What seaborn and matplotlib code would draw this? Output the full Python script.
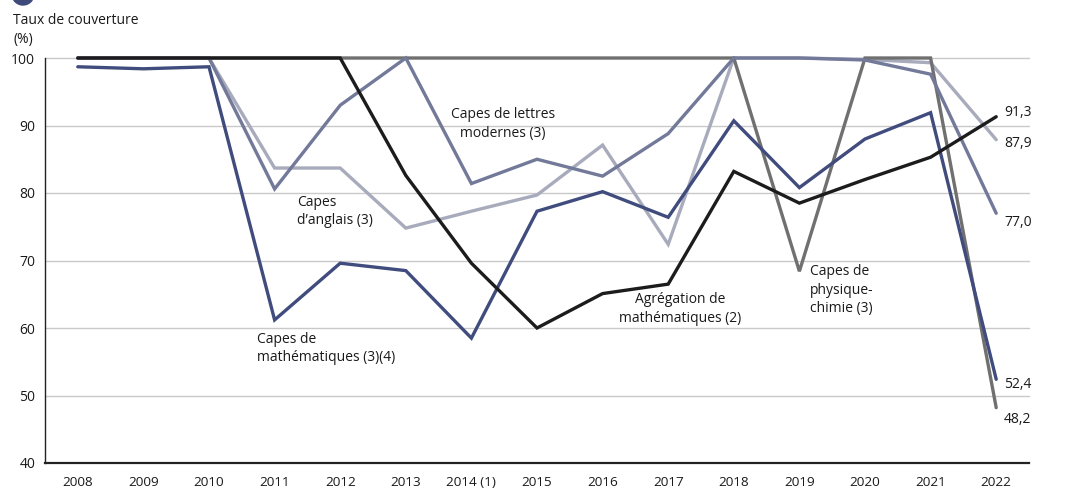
import matplotlib
matplotlib.use("Agg")
import matplotlib.pyplot as plt
import matplotlib.patches as mpatches
import numpy as np
import pandas as pd
import seaborn as sns

# Years of the competitive exams (2014 carries a footnote)
years = ["2008", "2009", "2010", "2011", "2012", "2013", "2014 (1)", "2015",
         "2016", "2017", "2018", "2019", "2020", "2021", "2022"]

# Coverage rate (%) for each exam
agreg_maths = [100, 100, 100, 100, 100, 82.6, 69.6, 60.0, 65.1, 66.5, 83.2, 78.5, 82.0, 85.3, 91.3]
capes_maths = [98.7, 98.4, 98.7, 61.2, 69.6, 68.5, 58.5, 77.3, 80.2, 76.4, 90.7, 80.8, 88.0, 91.9, 52.4]
capes_physique = [100, 100, 100, 100, 100, 100, 100, 100, 100, 100, 100, 68.4, 100, 100, 48.2]
capes_lettres = [100, 100, 100, 80.6, 93.0, 100, 81.4, 85.0, 82.5, 88.8, 100, 100, 99.7, 97.6, 77.0]
capes_anglais = [100, 100, 100, 83.7, 83.7, 74.8, 77.3, 79.7, 87.1, 72.4, 100, 100, 99.8, 99.3, 87.9]

series_names = ["Capes d'anglais", "Capes de physique-chimie", "Capes de lettres modernes",
                "Capes de mathématiques", "Agrégation de mathématiques"]
series_values = [capes_anglais, capes_physique, capes_lettres, capes_maths, agreg_maths]
series_colors = ["#a7abbc", "#707070", "#737999", "#414c7e", "#1c1c1c"]

# Final-year value labels
end_labels = ["91,3", "87,9", "77,0", "52,4", "48,2"]
end_values = [91.3, 87.9, 77.0, 52.4, 48.2]

df = pd.DataFrame({
    "pos": np.tile(np.arange(len(years)), len(series_names)),
    "value": np.concatenate(series_values),
    "series": np.repeat(series_names, len(years)),
})

sns.set_theme(style="white")
plt.rcParams["font.family"] = ["Open Sans", "DejaVu Sans"]

W, H = 1090, 491
fig = plt.figure(figsize=(W / 100, H / 100), dpi=100)
ax = fig.add_axes([45 / W, (H - 463) / H, (1029 - 45) / W, (463 - 58) / H])

# horizontal grid
for g in [50, 60, 70, 80, 90, 100]:
    ax.axhline(g, color="#c9c9c9", lw=1.0, zorder=0.5, clip_on=False)

sns.lineplot(data=df, x="pos", y="value", hue="series", hue_order=series_names,
             palette=dict(zip(series_names, series_colors)), linewidth=2.4,
             legend=False, ax=ax, sort=False)
for ln in ax.lines:
    if ln.get_linewidth() > 2:
        ln.set_clip_on(False)
        ln.set_solid_joinstyle("miter")
        ln.set_zorder(3)

ax.set_xlim(-0.5, len(years) - 0.5)
ax.set_ylim(40, 100)

# axes styling
for s in ["top", "right"]:
    ax.spines[s].set_visible(False)
ax.spines["left"].set_color("#222222")
ax.spines["left"].set_linewidth(1.0)
ax.spines["bottom"].set_color("#222222")
ax.spines["bottom"].set_linewidth(1.6)

ax.set_yticks([40, 50, 60, 70, 80, 90, 100])
ax.tick_params(axis="y", length=0, pad=7, labelsize=10, labelcolor="#1a1a1a")

ax.set_xticks(np.arange(len(years) + 1) - 0.5)
ax.set_xticklabels([])
ax.tick_params(axis="x", which="major", direction="out", length=7, width=1.2, color="#222222")
ax.set_xticks(np.arange(len(years)), minor=True)
ax.set_xticklabels(years, minor=True)
ax.tick_params(axis="x", which="minor", length=0, pad=9.5, labelsize=9.7, labelcolor="#1a1a1a")
ax.set_xlabel("")
ax.set_ylabel("")

txt = dict(fontsize=10, color="#1a1a1a", linespacing=1.3)

# series labels
ax.text(6.48, 90.2, "Capes de lettres\nmodernes (3)", ha="center", va="center", **txt)
ax.text(3.34, 77.3, "Capes\nd\u2019anglais (3)", ha="left", va="center", **txt)
ax.text(2.73, 57.0, "Capes de\nmathématiques (3)(4)", ha="left", va="center", **txt)
ax.text(9.18, 62.8, "Agrégation de\nmathématiques (2)", ha="center", va="center", **txt)
ax.text(11.16, 65.6, "Capes de\nphysique-\nchimie (3)", ha="left", va="center", **txt)

# end values
end_offsets = [0.6, -0.5, -1.3, -0.8, -1.7]
for lab, v, off in zip(end_labels, end_values, end_offsets):
    ax.text(14.12, v + off, lab, ha="left", va="center", **txt)

# axis title
fig.text(13 / W, 1 - 20 / H, "Taux de couverture", ha="left", va="center", fontsize=10, color="#1a1a1a")
fig.text(13 / W, 1 - 39 / H, "(%)", ha="left", va="center", fontsize=10, color="#1a1a1a")

# badge at the top-left corner
fig.patches.append(mpatches.Ellipse((23 / W, 1 + 6 / H), width=22 / W, height=22 / H,
                                    transform=fig.transFigure, color="#3e4a7c", clip_on=False))

fig.savefig("out.png", dpi=100)
